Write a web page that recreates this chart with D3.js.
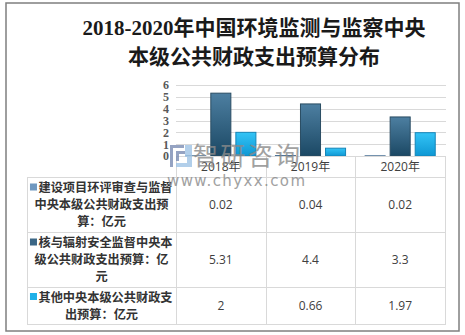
<!DOCTYPE html>
<html>
<head>
<meta charset="utf-8">
<script src="https://cdn.jsdelivr.net/npm/d3@7"></script>
<style>
  html, body { margin: 0; padding: 0; background: #fff; }
  svg { display: block; }
</style>
</head>
<body>
<svg id="chart" width="465" height="335"></svg>
<script>
// Budget data (亿元), one array per series
const years = ["2018年", "2019年", "2020年"];
const reviewBudget = [0.02, 0.04, 0.02];   // 建设项目环评审查与监督
const nuclearBudget = [5.31, 4.4, 3.3];    // 核与辐射安全监督
const otherBudget = [2, 0.66, 1.97];       // 其他
const yTicks = [0, 1, 2, 3, 4, 5, 6];
const seriesLabelLines = [
  ["建设项目环评审查与监督", "中央本级公共财政支出预", "算：亿元"],
  ["核与辐射安全监督中央本", "级公共财政支出预算：亿", "元"],
  ["其他中央本级公共财政支", "出预算：亿元"]
];
const titleLines = ["2018-2020年中国环境监测与监察中央", "本级公共财政支出预算分布"];

const series = [
  { values: reviewBudget, id: "s0" },
  { values: nuclearBudget, id: "s1" },
  { values: otherBudget, id: "s2" }
];

const svg = d3.select("#chart");
const defs = svg.append("defs");

// Bar fills
const fills = [
  { id: "s0", top: "#8fb0cf", bottom: "#5f88b0", stroke: "#4d7396", swatch: "#6f98c0" },
  { id: "s1", top: "#4d7fa1", bottom: "#1b4864", stroke: "#2a4d63", swatch: "#3b6685" },
  { id: "s2", top: "#33c4f6", bottom: "#0e97d3", stroke: "#1585b8", swatch: "#1fb0e8" }
];
fills.forEach(f => {
  const g = defs.append("linearGradient").attr("id", "grad-" + f.id)
    .attr("x1", 0).attr("y1", 0).attr("x2", 0).attr("y2", 1);
  g.append("stop").attr("offset", "0%").attr("stop-color", f.top);
  g.append("stop").attr("offset", "100%").attr("stop-color", f.bottom);
});

// Outer frame
svg.append("rect")
  .attr("x", 6).attr("y", 3).attr("width", 453).attr("height", 328)
  .attr("fill", "#fff").attr("stroke", "#7f7f7f").attr("stroke-width", 1.5);

// Title
svg.append("g").selectAll("text").data(titleLines).join("text")
  .attr("x", 254)
  .attr("y", (d, i) => 35 + i * 29)
  .attr("text-anchor", "middle")
  .attr("font-family", "'Liberation Serif', 'Noto Sans CJK SC', serif")
  .attr("font-size", 21)
  .attr("font-weight", "bold")
  .attr("fill", "#1a1a1a")
  .text(d => d);

// Layout
const tableLeft = 27, tableRight = 445, labelColRight = 176;
const plotTop = 85, plotBottom = 156;
const headerBottom = 177;
const rowBottoms = [232, 287, 324];

const x0 = d3.scaleBand().domain(years).range([labelColRight, tableRight]);
const x1 = d3.scaleBand().domain(series.map(s => s.id))
  .range([0, x0.bandwidth()]).paddingInner(0.16).paddingOuter(0.37);
const y = d3.scaleLinear().domain([0, 6]).range([plotBottom, plotTop]);

// Gridlines
svg.append("g").selectAll("line").data(yTicks.filter(t => t > 0)).join("line")
  .attr("x1", labelColRight).attr("x2", tableRight + 1)
  .attr("y1", d => Math.round(y(d)) + 0.5).attr("y2", d => Math.round(y(d)) + 0.5)
  .attr("stroke", "#d9d9d9").attr("stroke-width", 1);

// Y axis
const yAxis = svg.append("g")
  .attr("transform", `translate(${labelColRight},0)`)
  .call(d3.axisLeft(y).tickValues(yTicks).tickSize(0).tickPadding(7).tickFormat(d3.format("d")));
yAxis.select(".domain").remove();
yAxis.selectAll("text")
  .attr("font-family", "'Liberation Serif', serif")
  .attr("font-weight", "bold")
  .attr("font-size", 12)
  .attr("fill", "#595959");

// Bars
const groups = svg.append("g").selectAll("g").data(years).join("g")
  .attr("transform", d => `translate(${x0(d)},0)`);
groups.selectAll("rect")
  .data((d, i) => series.map(s => ({ id: s.id, v: s.values[i] })))
  .join("rect")
  .attr("x", d => x1(d.id) + 0.5)
  .attr("width", x1.bandwidth() - 1)
  .attr("y", d => y(d.v))
  .attr("height", d => y(0) - y(d.v))
  .attr("fill", d => `url(#grad-${d.id})`)
  .attr("stroke", d => fills.find(f => f.id === d.id).stroke)
  .attr("stroke-width", 1);

// Data table
const tbl = svg.append("g").attr("stroke", "#d9d9d9").attr("stroke-width", 1).attr("fill", "none");
const hLine = (yy, xa, xb) => tbl.append("line").attr("x1", xa).attr("x2", xb).attr("y1", yy + 0.5).attr("y2", yy + 0.5);
const vLine = (xx, ya, yb) => tbl.append("line").attr("x1", xx + 0.5).attr("x2", xx + 0.5).attr("y1", ya).attr("y2", yb);
hLine(plotBottom, labelColRight, tableRight + 1);
hLine(headerBottom, tableLeft, tableRight + 1);
rowBottoms.forEach(b => hLine(b, tableLeft, tableRight + 1));
vLine(tableLeft, headerBottom, rowBottoms[2] + 1);
years.forEach(yr => vLine(Math.round(x0(yr)), plotBottom, rowBottoms[2] + 1));
vLine(tableRight, plotBottom, rowBottoms[2] + 1);

// Year header labels
svg.append("g").selectAll("text").data(years).join("text")
  .attr("x", d => x0(d) + x0.bandwidth() / 2)
  .attr("y", 171)
  .attr("text-anchor", "middle")
  .attr("font-family", "'Open Sans', 'Noto Sans CJK SC', sans-serif")
  .attr("font-size", 12)
  .attr("fill", "#404040")
  .text(d => d);

// Row labels with swatches
const rowTops = [headerBottom, rowBottoms[0], rowBottoms[1]];
const labelCenter = (tableLeft + labelColRight) / 2;
seriesLabelLines.forEach((lines, r) => {
  const rowMid = (rowTops[r] + rowBottoms[r]) / 2;
  const lh = 17;
  const firstBase = rowMid - (lines.length - 1) * lh / 2 + 4.5;
  const g = svg.append("g");
  lines.forEach((ln, i) => {
    const t = g.append("text")
      .attr("x", labelCenter + (i === 0 ? 4 : 0))
      .attr("y", firstBase + i * lh)
      .attr("text-anchor", "middle")
      .attr("font-family", "'Noto Sans CJK SC', sans-serif")
      .attr("font-weight", "bold")
      .attr("font-size", 12.2)
      .attr("fill", "#333")
      .text(ln);
    if (i === 0) {
      const bb = t.node().getBBox();
      g.append("rect")
        .attr("x", bb.x - 8.5).attr("y", firstBase - 8.5)
        .attr("width", 7).attr("height", 7)
        .attr("fill", fills[r].swatch);
    }
  });
  // Values
  svg.append("g").selectAll("text").data(series[r].values).join("text")
    .attr("x", (d, i) => x0(years[i]) + x0.bandwidth() / 2)
    .attr("y", rowMid + 4.5)
    .attr("text-anchor", "middle")
    .attr("font-family", "'Open Sans', sans-serif")
    .attr("font-size", 12)
    .attr("fill", "#404040")
    .text(d => d);
});

// Watermark
const wm = svg.append("g").attr("opacity", 0.8);
const logo = wm.append("g").attr("transform", "translate(170,145)");
logo.append("path").attr("d", "M0,0 H14 V3 H3 V22 H0 Z").attr("fill", "#7b8db3");
logo.append("path").attr("d", "M6,6 H15 V9 H9 V16 H6 Z").attr("fill", "#7b8db3");
logo.append("rect").attr("x", 15).attr("y", 0).attr("width", 7).attr("height", 12).attr("fill", "#9fc4e6");
logo.append("rect").attr("x", 6).attr("y", 18).attr("width", 16).attr("height", 4).attr("fill", "#9fc4e6");
logo.append("rect").attr("x", 17).attr("y", 12).attr("width", 5).attr("height", 6).attr("fill", "#9fc4e6");
wm.append("text")
  .attr("x", 193).attr("y", 165)
  .attr("textLength", 107).attr("lengthAdjust", "spacing")
  .attr("font-family", "'Noto Sans CJK SC', sans-serif")
  .attr("font-size", 25)
  .attr("fill", "#8a8a8a")
  .text("智研咨询");
wm.append("text")
  .attr("x", 167).attr("y", 186)
  .attr("textLength", 138).attr("lengthAdjust", "spacing")
  .attr("font-family", "'DejaVu Sans', sans-serif")
  .attr("font-size", 15)
  .attr("fill", "#8a8a8a")
  .text("www.chyxx.com");
</script>
</body>
</html>
